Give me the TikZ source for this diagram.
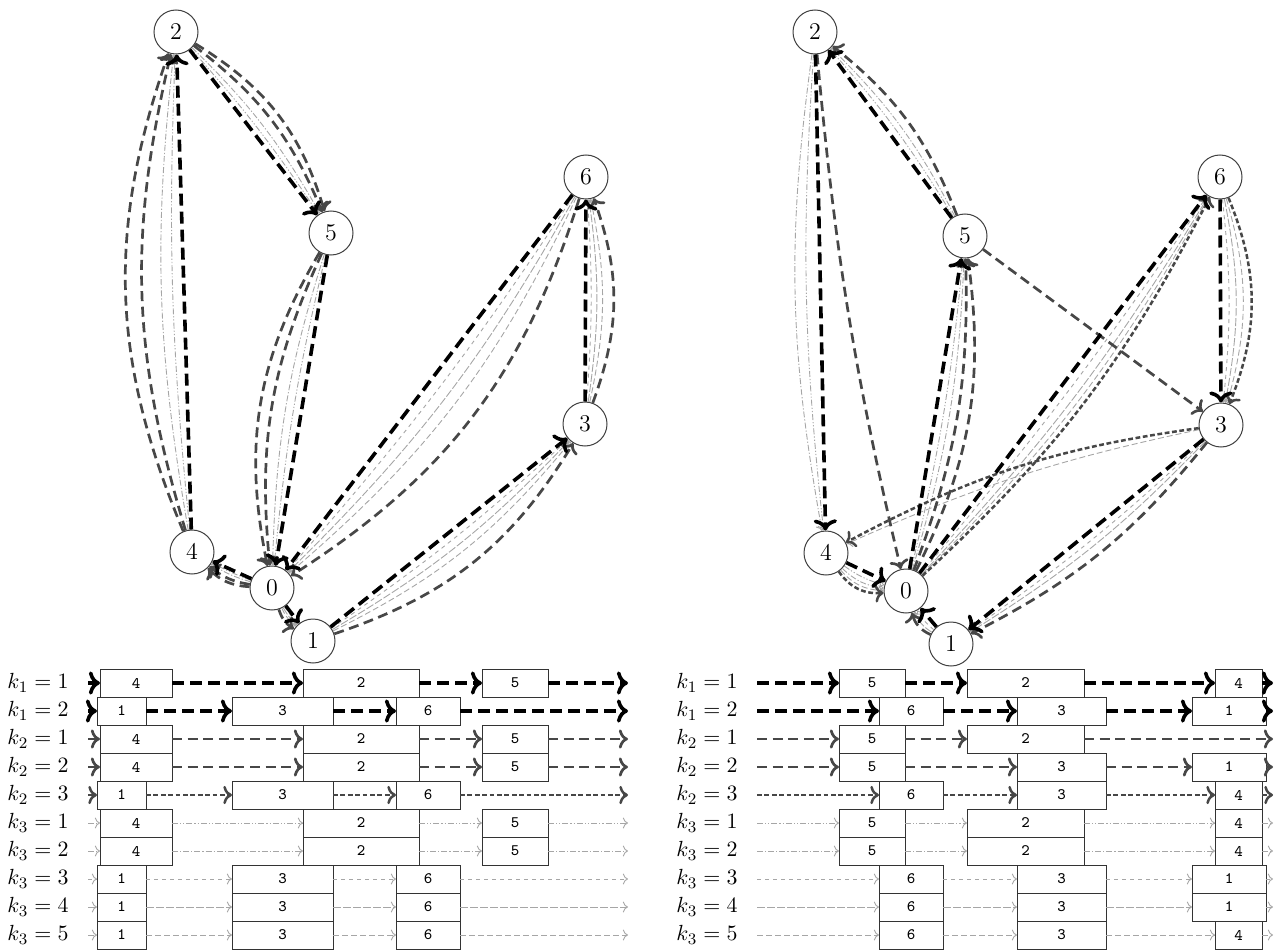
\documentclass[tikz,border=0pt]{standalone}
\usetikzlibrary{arrows.meta}
\newcommand\boxrow[6]{%
  \coordinate (#1s#2) at (#4,-#2);
  \coordinate (#1e#2) at (#5,-#2);
  \xdef\prevnode{#1s#2}%
  \foreach \bl/\br/\bt in {#6}{%
    \node[tbox, minimum width={(\br-\bl)*0.5pt}] (#1b#2n\bt) at ({(\bl+\br)/2},-#2) {\bt};
    \draw[#3] (\prevnode) -- (#1b#2n\bt.west);
    \xdef\prevnode{#1b#2n\bt.east}%
  }
  \draw[#3] (\prevnode) -- (#1e#2);
}
\newcommand\E[4]{\draw[#1] (#3) to[bend left={#2}] (#4);}
\newcommand\routeA[2]{\E{#1}{#2}{L0}{L4}\E{#1}{#2}{L4}{L2}\E{#1}{#2}{L2}{L5}\E{#1}{-#2}{L5}{L0}}
\newcommand\routeB[2]{\E{#1}{-#2}{L0}{L1}\E{#1}{-#2}{L1}{L3}\E{#1}{-#2}{L3}{L6}\E{#1}{#2}{L6}{L0}}
\begin{document}
\begin{tikzpicture}[x=0.5pt,y=0.5pt,
  gnode/.style={circle, draw=black!75, line width=0.5pt, fill=white, minimum size=22pt, inner sep=0pt, font=\fontsize{12}{14}\selectfont},
  tbox/.style={rectangle, draw=black!80, line width=0.5pt, fill=white, minimum height=14pt, inner sep=0pt, outer sep=0pt, font=\ttfamily\fontsize{8}{9}\selectfont},
  klab/.style={font=\fontsize{11}{13}\selectfont, inner sep=0pt},
  ka/.style={draw=black, line width=1.8pt, dash pattern=on 6pt off 3pt, -{To}},
  kb/.style={draw=black!72, line width=1.35pt, dash pattern=on 5pt off 2.8pt, -{To}},
  kbd/.style={draw=black!72, line width=1.25pt, dash pattern=on 2.4pt off 1.3pt, -{To}},
  kc/.style={draw=black!35, line width=0.45pt, -{To}},
  kc1/.style={kc, dash pattern=on 3pt off 1pt on 0.6pt off 1pt on 0.6pt off 1pt},
  kc2/.style={kc, dash pattern=on 3pt off 1pt on 0.6pt off 1pt},
  kc3/.style={kc, dash pattern=on 2pt off 2pt},
  kc4/.style={kc, dash pattern=on 4pt off 1pt},
  kc5/.style={kc, dash pattern=on 3pt off 1.5pt}]
\useasboundingbox (0,0) rectangle (1274,-952);
% graph nodes
\foreach \n/\x/\y in {0/272/588, 1/313/641, 2/176/32, 3/585/424, 4/192/552, 5/331/233, 6/586/177}
  \node[gnode] (L\n) at (\x,-\y) {$\n$};
\foreach \n/\x/\y in {0/906/591, 1/951/644, 2/815/32, 3/1221/425, 4/826/553, 5/965/236, 6/1220/177}
  \node[gnode] (R\n) at (\x,-\y) {$\n$};
% left graph
\routeA{kc1}{4}\routeA{kc2}{8}\routeA{kb}{15}\routeA{kb}{21}\routeA{ka}{0}
\routeB{kc3}{4}\routeB{kc4}{8}\routeB{kc5}{12}\routeB{kb}{20}\routeB{ka}{0}
% right graph: thin
\E{kc1}{-4}{R0}{R5}\E{kc1}{-5}{R5}{R2}\E{kc1}{-5}{R2}{R4}\E{kc1}{-10}{R4}{R0}
\E{kc2}{-7}{R0}{R5}\E{kc2}{-9}{R5}{R2}\E{kc2}{-9}{R2}{R4}\E{kc2}{-18}{R4}{R0}
\E{kc3}{-3}{R0}{R6}\E{kc3}{6}{R6}{R3}\E{kc3}{4}{R3}{R1}\E{kc3}{10}{R1}{R0}
\E{kc4}{-6}{R0}{R6}\E{kc4}{11}{R6}{R3}\E{kc4}{7}{R3}{R1}\E{kc4}{18}{R1}{R0}
\E{kc5}{-8}{R0}{R6}\E{kc5}{16}{R6}{R3}\E{kc5}{-6}{R3}{R4}\E{kc5}{-24}{R4}{R0}
% right graph: k2
\E{kb}{-17}{R0}{R5}\E{kb}{-15}{R5}{R2}\E{kb}{-4}{R2}{R0}
\E{kb}{-11}{R0}{R5}\E{kb}{0}{R5}{R3}\E{kb}{12}{R3}{R1}\E{kb}{25}{R1}{R0}
\E{kbd}{-10}{R0}{R6}\E{kbd}{22}{R6}{R3}\E{kbd}{-10}{R3}{R4}\E{kbd}{-30}{R4}{R0}
% right graph: k1
\E{ka}{0}{R0}{R5}\E{ka}{0}{R5}{R2}\E{ka}{0}{R2}{R4}\E{ka}{0}{R4}{R0}
\E{ka}{0}{R0}{R6}\E{ka}{0}{R6}{R3}\E{ka}{0}{R3}{R1}\E{ka}{0}{R1}{R0}
% row labels
\foreach \y/\k/\v in {683/1/1, 711/1/2, 739/2/1, 767/2/2, 795/2/3, 823/3/1, 851/3/2, 879/3/3, 907/3/4, 935/3/5}{
  \node[klab] (lk\y) at (38,-\y) {$k_{\k}=\v$};
  \node[klab] (rk\y) at (707,-\y) {$k_{\k}=\v$};
}
% left table
\boxrow{l}{683}{ka}{88}{628}{100/172/4,303/419/2,482/548/5}
\boxrow{l}{711}{ka}{88}{628}{97/146/1,232/333/3,396/460/6}
\boxrow{l}{739}{kb}{88}{628}{100/172/4,303/419/2,482/548/5}
\boxrow{l}{767}{kb}{88}{628}{100/172/4,303/419/2,482/548/5}
\boxrow{l}{795}{kbd}{88}{628}{97/146/1,232/333/3,396/460/6}
\boxrow{l}{823}{kc1}{88}{628}{100/172/4,303/419/2,482/548/5}
\boxrow{l}{851}{kc2}{88}{628}{100/172/4,303/419/2,482/548/5}
\boxrow{l}{879}{kc3}{88}{628}{97/146/1,232/333/3,396/460/6}
\boxrow{l}{907}{kc4}{88}{628}{97/146/1,232/333/3,396/460/6}
\boxrow{l}{935}{kc5}{88}{628}{97/146/1,232/333/3,396/460/6}
% right table
\boxrow{r}{683}{ka}{757}{1273}{839/905/5,967/1084/2,1215/1262/4}
\boxrow{r}{711}{ka}{757}{1273}{879/943/6,1017/1106/3,1192/1266/1}
\boxrow{r}{739}{kb}{757}{1273}{839/905/5,967/1084/2}
\boxrow{r}{767}{kb}{757}{1273}{839/905/5,1017/1106/3,1192/1266/1}
\boxrow{r}{795}{kbd}{757}{1273}{879/943/6,1017/1106/3,1215/1262/4}
\boxrow{r}{823}{kc1}{757}{1273}{839/905/5,967/1084/2,1215/1262/4}
\boxrow{r}{851}{kc2}{757}{1273}{839/905/5,967/1084/2,1215/1262/4}
\boxrow{r}{879}{kc3}{757}{1273}{879/943/6,1017/1106/3,1192/1266/1}
\boxrow{r}{907}{kc4}{757}{1273}{879/943/6,1017/1106/3,1192/1266/1}
\boxrow{r}{935}{kc5}{757}{1273}{879/943/6,1017/1106/3,1215/1262/4}
\end{tikzpicture}
\end{document}
